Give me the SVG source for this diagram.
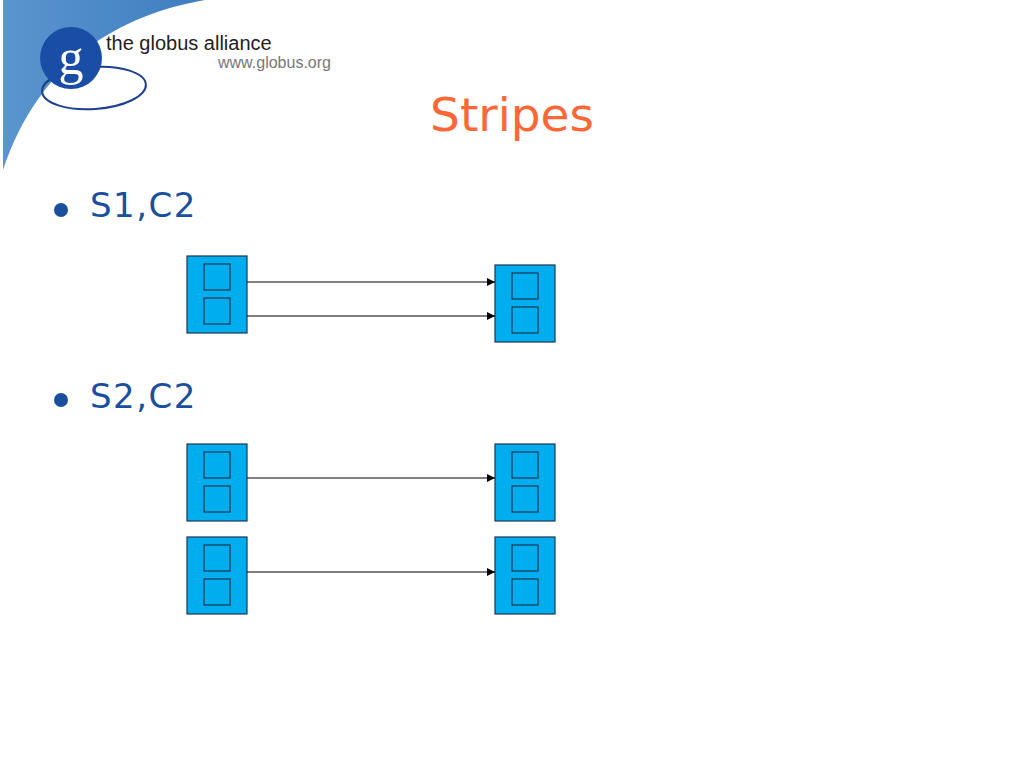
<svg xmlns="http://www.w3.org/2000/svg" width="1024" height="768" viewBox="0 0 1024 768">
<defs>
<style>
.box{fill:#00aeef;stroke:#1b3552;stroke-width:1.2}
.conn{stroke:#000;stroke-width:1.2;fill:none;marker-end:url(#arr)}
.bul{font-family:"DejaVu Sans",Verdana,sans-serif;font-size:34px;letter-spacing:1.5px;fill:#1a4f9e}
</style>
<marker id="arr" viewBox="0 0 10 10" refX="10" refY="5" markerWidth="9" markerHeight="8" markerUnits="userSpaceOnUse" orient="auto">
<path d="M0,0 L10,5 L0,10 z" fill="#000"/>
</marker>
<linearGradient id="sw" x1="0" y1="0" x2="1" y2="0">
<stop offset="0" stop-color="#5b95cf"/>
<stop offset="1" stop-color="#3e7dbf"/>
</linearGradient>
<g id="dbl">
<rect class="box" x="0" y="0" width="60" height="77"/>
<rect class="box" x="17" y="8" width="26" height="26"/>
<rect class="box" x="17" y="42" width="26" height="26"/>
</g>
</defs>
<rect width="1024" height="768" fill="#fff"/>
<g id="logo">
<path d="M3,0 H205 C120,15 40,60 3,170 Z" fill="url(#sw)"/>
<ellipse cx="94" cy="88" rx="52" ry="21" fill="none" stroke="#1d3f8f" stroke-width="2" transform="rotate(-4 94 88)"/>
<circle cx="71" cy="58" r="31" fill="#1a4ea6"/>
<text x="71" y="74" text-anchor="middle" font-family="Liberation Serif,serif" font-size="50" fill="#fff">g</text>
<text x="106" y="50" font-family="Liberation Sans,Arial,sans-serif" font-size="20" fill="#222">the globus alliance</text>
<text x="218" y="68" font-family="Liberation Sans,Arial,sans-serif" font-size="16" fill="#777">www.globus.org</text>
</g>
<text id="title" x="512" y="131" text-anchor="middle" font-family="DejaVu Sans,Verdana,sans-serif" font-size="47" fill="#fb6837">Stripes</text>
<g id="bullet1">
<circle cx="61" cy="210" r="7" fill="#1a4f9e"/>
<text class="bul" x="90" y="217">S1,C2</text>
</g>
<g id="bullet2">
<circle cx="61" cy="400" r="7" fill="#1a4f9e"/>
<text class="bul" x="90" y="408">S2,C2</text>
</g>
<g id="s1-src"><use href="#dbl" x="187" y="256"/></g>
<g id="s1-dst"><use href="#dbl" x="495" y="265"/></g>
<g id="s2-src-a"><use href="#dbl" x="187" y="444"/></g>
<g id="s2-dst-a"><use href="#dbl" x="495" y="444"/></g>
<g id="s2-src-b"><use href="#dbl" x="187" y="537"/></g>
<g id="s2-dst-b"><use href="#dbl" x="495" y="537"/></g>
<g id="connectors">
<line class="conn" x1="247" y1="282" x2="495" y2="282"/>
<line class="conn" x1="247" y1="316" x2="495" y2="316"/>
<line class="conn" x1="247" y1="478" x2="495" y2="478"/>
<line class="conn" x1="247" y1="572" x2="495" y2="572"/>
</g>
</svg>
